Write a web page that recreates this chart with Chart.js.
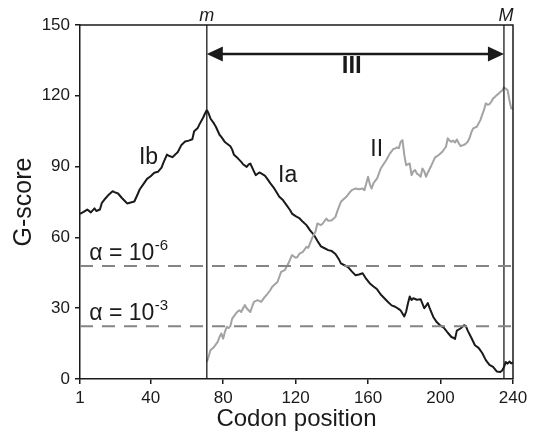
<!DOCTYPE html>
<html>
<head>
<meta charset="utf-8">
<script src="https://cdn.jsdelivr.net/npm/chart.js@4.4.0/dist/chart.umd.min.js"></script>
<style>
  html, body { margin: 0; padding: 0; background: #fff; }
</style>
</head>
<body>
<canvas id="chart" width="534" height="437"></canvas>
<script>
// axis ticks
const xTicks = [1, 40, 80, 120, 160, 200, 240];
const yTicks = [0, 30, 60, 90, 120, 150];

// marker positions (codon) and significance levels (G-score)
const mPos = 71;
const MPos = 235;
const alphaLevels = [47.9, 22.3]; // 10^-6, 10^-3
const arrowLevel = 137.7;

// curve Ib
const ibPos = [1, 3, 5, 7, 9, 10, 12, 13, 15, 17, 19, 20, 22, 24, 26, 27, 29, 31, 33, 34, 36, 38, 40, 42, 44, 46, 47, 49, 50, 52, 54, 55, 57, 59, 61, 63, 64, 66, 67, 69, 70, 71];
const ibG = [70, 70.8, 71.8, 70.6, 72.3, 71.2, 71.8, 74.5, 76.5, 78.2, 79.6, 79.2, 78.6, 76.8, 75.2, 74.4, 74.8, 75.2, 78.6, 80.4, 82.6, 84.8, 85.9, 87.4, 87.8, 89.6, 91.6, 95.1, 94.6, 94.0, 95.4, 96.2, 99.2, 100.6, 101.0, 101.6, 105.0, 106.4, 108.0, 110.8, 112.5, 114];

// curve Ia
const iaPos = [71, 72, 73, 75, 76, 78, 79, 81, 82, 84, 85, 86, 88, 90, 91, 93, 94, 95, 97, 98, 100, 101, 103, 104, 106, 108, 109, 111, 113, 115, 117, 118, 120, 122, 124, 126, 128, 130, 132, 134, 136, 138, 140, 142, 144, 145, 147, 149, 151, 153, 155, 157, 159, 161, 163, 165, 167, 169, 171, 173, 175, 177, 178, 180, 181, 182, 183, 184, 185, 187, 189, 191, 192, 193, 194, 196, 198, 200, 202, 204, 206, 207, 208, 209, 211, 213, 214, 215, 217, 219, 221, 223, 225, 227, 229, 231, 233, 234, 235, 236, 237, 238, 239, 240];
const iaG = [114, 112.5, 110.4, 108.2, 106.9, 103.5, 102.6, 100.4, 99.8, 98.6, 97.2, 95.0, 93.6, 92.0, 91.0, 89.9, 90.8, 91.3, 88.0, 86.4, 87.5, 87.1, 86.2, 85.2, 83.0, 81.0, 79.8, 77.2, 75.8, 73.7, 71.5, 70.1, 69.0, 68.2, 66.6, 65.2, 63.0, 61.2, 58.6, 56.2, 55.4, 54.6, 54.2, 53.0, 50.6, 49.0, 48.2, 47.4, 45.6, 44.0, 44.3, 44.8, 42.4, 40.5, 39.2, 38.0, 35.8, 34.2, 32.6, 31.2, 30.6, 29.6, 29.0, 26.5, 28.5, 32.0, 35.0, 33.5, 34.2, 33.6, 33.8, 30.0, 31.0, 32.2, 30.0, 26.3, 24.0, 22.6, 21.6, 19.6, 17.8, 17.5, 17.0, 20.5, 21.4, 22.8, 22.4, 20.5, 17.5, 14.3, 13.2, 11.0, 8.0, 6.0, 5.1, 3.2, 3.0, 3.6, 5.0, 7.2, 6.5, 7.4, 6.6, 7.0];

// curve II
const iiPos = [71, 72, 73, 75, 77, 78, 79, 80, 81, 82, 83, 84, 85, 87, 88, 89, 90, 91, 92, 93, 95, 96, 97, 99, 101, 103, 104, 106, 107, 108, 110, 112, 114, 116, 118, 120, 121, 122, 124, 126, 127, 129, 131, 132, 134, 135, 137, 138, 140, 142, 143, 145, 146, 148, 150, 151, 153, 155, 157, 158, 160, 161, 162, 163, 165, 167, 169, 170, 172, 174, 175, 176, 177, 178, 179, 180, 181, 182, 183, 184, 185, 186, 187, 188, 189, 190, 191, 192, 193, 195, 197, 199, 201, 203, 204, 205, 206, 207, 208, 209, 210, 211, 213, 214, 215, 216, 217, 218, 220, 222, 223, 224, 225, 226, 227, 228, 229, 230, 231, 232, 233, 234, 235, 236, 237, 238, 239, 240];
const iiG = [7.2, 9.5, 12.2, 13.6, 15.7, 17.8, 19.3, 17.1, 20.0, 22.1, 21.6, 22.4, 25.6, 27.7, 28.6, 29.1, 28.4, 30.0, 31.3, 30.0, 28.4, 30.6, 32.7, 33.4, 32.7, 34.8, 35.6, 37.6, 39.0, 39.7, 41.1, 45.4, 46.1, 48.9, 52.5, 51.4, 51.7, 53.0, 53.9, 56.0, 55.6, 59.5, 62.5, 65.9, 65.2, 65.9, 68.0, 67.0, 67.3, 68.7, 71.0, 75.1, 75.8, 77.2, 79.2, 80.0, 80.7, 80.4, 80.7, 80.0, 85.7, 82.5, 80.7, 83.0, 85.0, 89.2, 91.5, 92.7, 95.5, 97.5, 97.7, 98.1, 97.8, 100.5, 101.2, 95.0, 90.6, 91.0, 91.3, 86.4, 88.0, 88.5, 87.0, 86.5, 85.7, 89.2, 88.0, 85.7, 87.5, 90.6, 93.9, 94.9, 96.3, 98.4, 102.0, 101.0, 100.5, 101.0, 100.2, 101.5, 100.0, 98.7, 99.2, 99.8, 100.5, 102.0, 104.5, 106.2, 106.9, 109.7, 112.0, 114.0, 116.8, 116.2, 116.4, 117.5, 118.9, 119.5, 120.3, 120.8, 121.7, 122.2, 123.6, 123.0, 122.4, 118.2, 114.7, 114.5];

const FONT = "'Liberation Sans', Arial, Helvetica, sans-serif";
const INK = '#1a1a1a';

function pairs(xs, ys) {
    return xs.map((x, i) => ({ x: x, y: ys[i] }));
}

function hline(level) {
    return [{ x: xTicks[0], y: level }, { x: xTicks[xTicks.length - 1], y: level }];
}

function vline(pos) {
    return [{ x: pos, y: yTicks[0] }, { x: pos, y: yTicks[yTicks.length - 1] }];
}

const lineStyle = { pointRadius: 0, tension: 0, fill: false, borderJoinStyle: 'round' };

// 주석: 테두리, 화살표, 글자
const annotations = {
    id: 'annotations',
    afterDatasetsDraw(chart) {
        const ctx = chart.ctx;
        const area = chart.chartArea;
        const x = chart.scales.x;
        const y = chart.scales.y;

        ctx.save();
        // 위, 오른쪽 테두리
        ctx.strokeStyle = INK;
        ctx.lineWidth = 1.5;
        ctx.beginPath();
        ctx.moveTo(area.left, area.top);
        ctx.lineTo(area.right, area.top);
        ctx.lineTo(area.right, area.bottom);
        ctx.stroke();

        // 양방향 화살표 (III)
        const ax1 = x.getPixelForValue(mPos);
        const ax2 = x.getPixelForValue(MPos);
        const ay = y.getPixelForValue(arrowLevel);
        const head = 16, half = 7.5;
        ctx.fillStyle = INK;
        ctx.lineWidth = 2.5;
        ctx.beginPath();
        ctx.moveTo(ax1 + head - 2, ay);
        ctx.lineTo(ax2 - head + 2, ay);
        ctx.stroke();
        ctx.beginPath();
        ctx.moveTo(ax1, ay);
        ctx.lineTo(ax1 + head, ay - half);
        ctx.lineTo(ax1 + head, ay + half);
        ctx.closePath();
        ctx.fill();
        ctx.beginPath();
        ctx.moveTo(ax2, ay);
        ctx.lineTo(ax2 - head, ay - half);
        ctx.lineTo(ax2 - head, ay + half);
        ctx.closePath();
        ctx.fill();

        // 곡선 이름
        ctx.textAlign = 'center';
        ctx.textBaseline = 'middle';
        ctx.font = '23px ' + FONT;
        ctx.fillText('Ib', x.getPixelForValue(38.8), y.getPixelForValue(93.6));
        ctx.fillText('Ia', x.getPixelForValue(115.6), y.getPixelForValue(86));
        ctx.fillText('II', x.getPixelForValue(164.8), y.getPixelForValue(97));
        ctx.font = 'bold 24px ' + FONT;
        ctx.fillText('III', x.getPixelForValue(151), y.getPixelForValue(132.4));

        // m, M
        ctx.font = 'italic 18px ' + FONT;
        ctx.textBaseline = 'alphabetic';
        ctx.fillText('m', x.getPixelForValue(mPos), area.top - 4);
        ctx.fillText('M', x.getPixelForValue(MPos) + 2, area.top - 4);

        // 유의 수준
        const exps = ['-6', '-3'];
        alphaLevels.forEach((lv, i) => {
            const tx = x.getPixelForValue(6.1);
            const ty = y.getPixelForValue(lv) - 6;
            ctx.textAlign = 'left';
            ctx.font = '23px ' + FONT;
            ctx.fillText('\u03b1 = 10', tx, ty);
            const w = ctx.measureText('\u03b1 = 10').width;
            ctx.font = '15px ' + FONT;
            ctx.fillText(exps[i], tx + w + 0.5, ty - 10);
        });
        ctx.restore();
    }
};

const ctx = document.getElementById('chart').getContext('2d');
new Chart(ctx, {
    type: 'line',
    data: {
        datasets: [
            Object.assign({ data: hline(alphaLevels[0]), borderColor: '#858585', borderWidth: 2, borderDash: [13, 9] }, lineStyle),
            Object.assign({ data: hline(alphaLevels[1]), borderColor: '#858585', borderWidth: 2, borderDash: [13, 9] }, lineStyle),
            Object.assign({ data: vline(mPos), borderColor: INK, borderWidth: 1.3 }, lineStyle),
            Object.assign({ data: vline(MPos), borderColor: INK, borderWidth: 1.3 }, lineStyle),
            Object.assign({ label: 'II', data: pairs(iiPos, iiG), borderColor: '#a3a3a3', borderWidth: 2 }, lineStyle),
            Object.assign({ label: 'Ib', data: pairs(ibPos, ibG), borderColor: INK, borderWidth: 2 }, lineStyle),
            Object.assign({ label: 'Ia', data: pairs(iaPos, iaG), borderColor: INK, borderWidth: 2 }, lineStyle)
        ]
    },
    options: {
        responsive: false,
        animation: false,
        devicePixelRatio: 1,
        layout: { padding: { top: 25, right: 21, left: 0, bottom: 0 } },
        plugins: { legend: { display: false }, tooltip: { enabled: false } },
        scales: {
            x: {
                type: 'linear',
                min: xTicks[0],
                max: xTicks[xTicks.length - 1],
                afterBuildTicks: (s) => { s.ticks = xTicks.map(v => ({ value: v })); },
                afterFit: (s) => { s.height = 58; },
                grid: { drawOnChartArea: false, drawTicks: true, tickLength: 5, color: INK, lineWidth: 1.5 },
                border: { color: INK, width: 1.5 },
                ticks: { color: INK, font: { family: FONT, size: 17 }, padding: 4, maxRotation: 0, autoSkip: false },
                title: { display: true, text: 'Codon position', color: INK, font: { family: FONT, size: 24 }, padding: { top: 0, bottom: 3 } }
            },
            y: {
                min: yTicks[0],
                max: yTicks[yTicks.length - 1],
                afterBuildTicks: (s) => { s.ticks = yTicks.map(v => ({ value: v })); },
                afterFit: (s) => { s.width = 80; },
                grid: { drawOnChartArea: false, drawTicks: true, tickLength: 5, color: INK, lineWidth: 1.5 },
                border: { color: INK, width: 1.5 },
                ticks: { color: INK, font: { family: FONT, size: 17 }, padding: 5 },
                title: { display: true, text: 'G-score', color: INK, font: { family: FONT, size: 25 }, padding: { top: 9, bottom: 0 } }
            }
        }
    },
    plugins: [annotations]
});
</script>
</body>
</html>
